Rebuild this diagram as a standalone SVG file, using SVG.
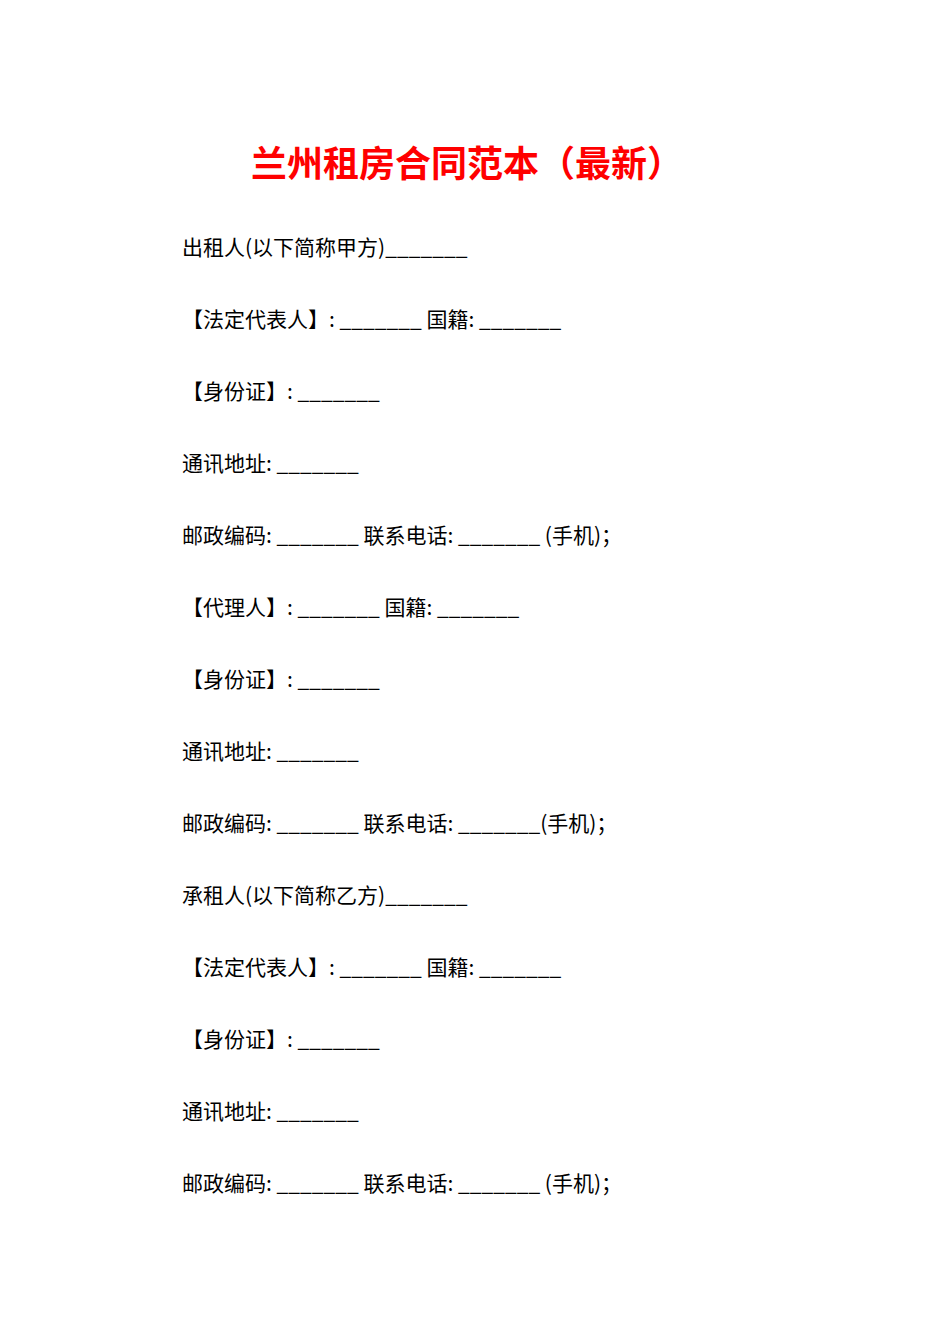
<svg xmlns="http://www.w3.org/2000/svg" width="950" height="1344" viewBox="0 0 950 1344">
<style>
.t{font-family:"Noto Sans CJK SC","Noto Sans",sans-serif;font-size:21px;fill:#000}
.h{font-family:"Noto Sans CJK SC","Noto Sans",sans-serif;font-size:36px;font-weight:bold;fill:#ff0000}
</style>
<rect width="950" height="1344" fill="#fff"/>
<text class="h" x="467" y="177" text-anchor="middle">兰州租房合同范本（最新）</text>
<g class="t" xml:space="preserve">
<text x="182" y="255">出租人(以下简称甲方)_______</text>
<text x="182" y="327">【法定代表人】: _______ 国籍: _______</text>
<text x="182" y="399">【身份证】: _______</text>
<text x="182" y="471">通讯地址:  _______</text>
<text x="182" y="543">邮政编码:  _______ 联系电话: _______ (手机)；</text>
<text x="182" y="615">【代理人】: _______ 国籍: _______</text>
<text x="182" y="687">【身份证】: _______</text>
<text x="182" y="759">通讯地址: _______</text>
<text x="182" y="831">邮政编码: _______ 联系电话:  _______(手机)；</text>
<text x="182" y="903">承租人(以下简称乙方)_______</text>
<text x="182" y="975">【法定代表人】: _______ 国籍: _______</text>
<text x="182" y="1047">【身份证】: _______</text>
<text x="182" y="1119">通讯地址: _______</text>
<text x="182" y="1191">邮政编码: _______ 联系电话: _______ (手机)；</text>
</g>
</svg>
